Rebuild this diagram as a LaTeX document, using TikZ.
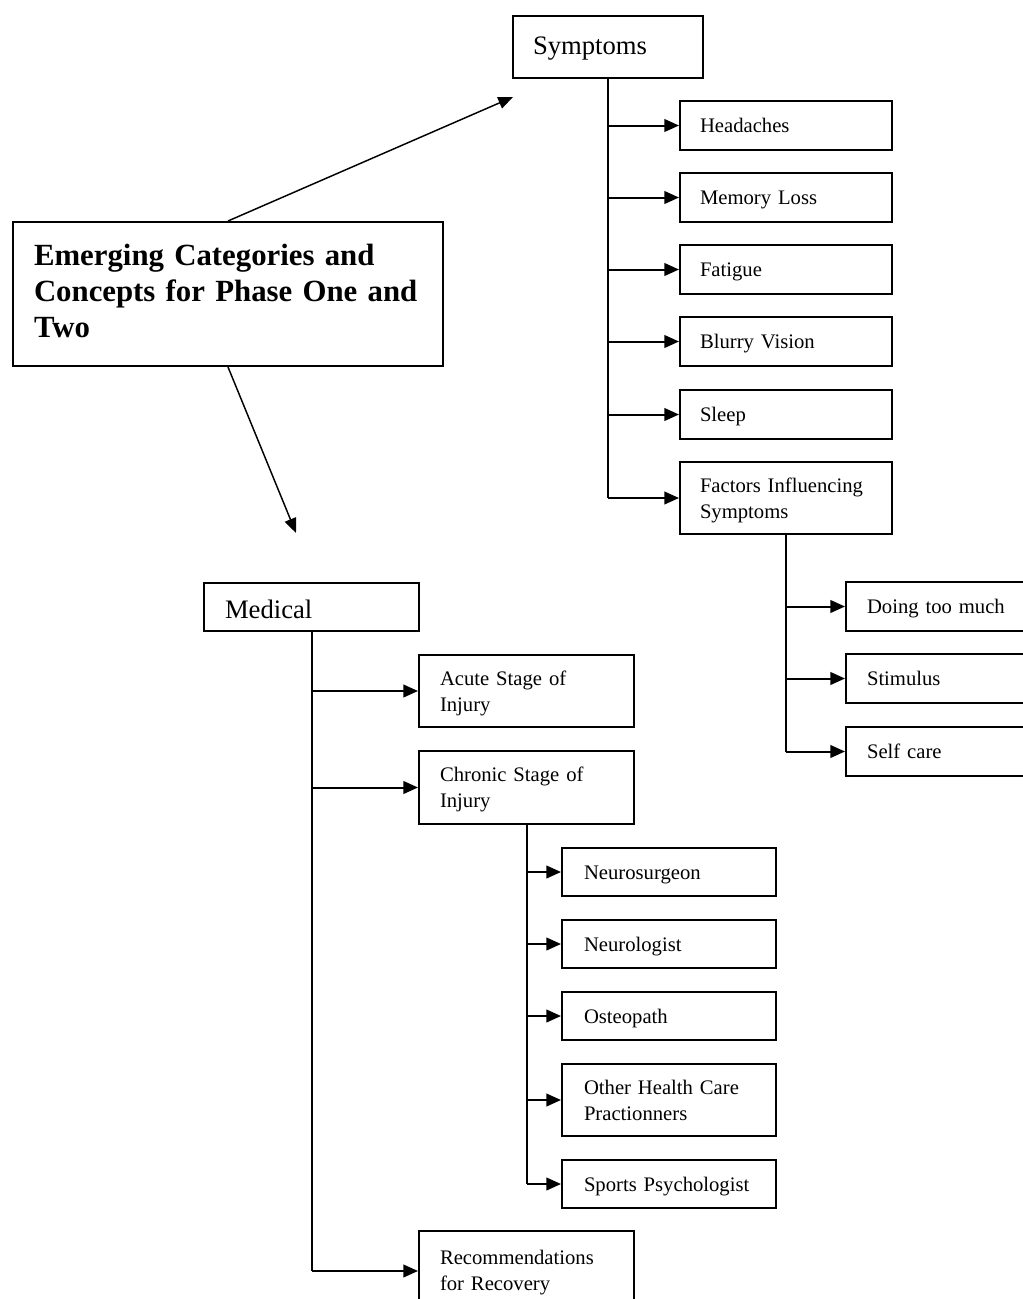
\documentclass[tikz,border=0pt]{standalone}
\usepackage{fontspec}
\setmainfont{Liberation Serif}
\usetikzlibrary{arrows.meta}

% left-indented block of lines inside a framed box, optionally lowered
\newcommand\boxlines[3][1.5pt]{\hspace*{#2}\raisebox{-#1}[\height][\depth]{\begin{tabular}{@{}l@{}}#3\end{tabular}}}

\tikzset{
  frame/.style={draw, line width=1.5pt, rectangle, anchor=north west,
                inner xsep=0pt, inner ysep=0pt, align=left},
  small/.style={frame, font=\fontsize{15.5}{19.5}\selectfont},
  large/.style={frame, font=\fontsize{20}{24}\selectfont},
  symchild/.style={small, text width=159pt, minimum height=36.75pt},
  facchild/.style={small, text width=159pt, minimum height=36.75pt},
  medchild/.style={small, text width=161.25pt, minimum height=54pt},
  chrchild/.style={small, text width=160.5pt, minimum height=36pt},
  trunk/.style={line width=1.5pt},
  branch/.style={line width=1.5pt, -{Triangle[length=11pt,width=9.5pt]}},
  diag/.style={line width=1.1pt, -{Triangle[length=11pt,width=9pt]}}
}

\begin{document}
\begin{tikzpicture}[x=0.75pt, y=-0.75pt]
\useasboundingbox (0,0) rectangle (1023,1299);
\fill[white] (0,0) rectangle (1023,1299);
\clip (0,0) rectangle (1023,1299);

% title box
\node[frame, font=\fontsize{23.1}{27}\selectfont\bfseries, text width=322.5pt,
      minimum height=108pt] (title) at (12,221)
  {\boxlines[0pt]{15.75pt}{Emerging Categories and\\Concepts for Phase One and\\Two}};

% symptoms branch
\node[large, text width=142.5pt, minimum height=46.5pt] (sym) at (512,15)
  {\boxlines[0.5pt]{15pt}{Symptoms}};
\node[symchild] (hd) at (679,100) {\boxlines{15pt}{Headaches}};
\node[symchild] (ml) at (679,172) {\boxlines{15pt}{Memory Loss}};
\node[symchild] (fa) at (679,244) {\boxlines{15pt}{Fatigue}};
\node[symchild] (bv) at (679,316) {\boxlines{15pt}{Blurry Vision}};
\node[symchild] (sl) at (679,389) {\boxlines{15pt}{Sleep}};
\node[symchild, minimum height=54pt] (fac) at (679,461)
  {\boxlines{15pt}{Factors Influencing\\Symptoms}};

\node[facchild] (dtm) at (845,581) {\boxlines{15.75pt}{Doing too much}};
\node[facchild] (stm) at (845,653) {\boxlines{15.75pt}{Stimulus}};
\node[facchild] (sc)  at (845,726) {\boxlines{15.75pt}{Self care}};

% medical branch
\node[large, text width=161.25pt, minimum height=36pt] (med) at (203,582)
  {\boxlines[3.5pt]{15.75pt}{Medical}};
\node[medchild] (acu) at (418,654) {\boxlines{15.75pt}{Acute Stage of\\Injury}};
\node[medchild, minimum height=54.75pt] (chr) at (418,750)
  {\boxlines{15.75pt}{Chronic Stage of\\Injury}};
\node[medchild, minimum height=60pt] (rec) at (418,1230)
  {\boxlines[1pt]{15.75pt}{Recommendations\\for Recovery}};

\node[chrchild] (nsu) at (561,847)  {\boxlines{16.5pt}{Neurosurgeon}};
\node[chrchild] (nlo) at (561,919)  {\boxlines{16.5pt}{Neurologist}};
\node[chrchild] (ost) at (561,991)  {\boxlines{16.5pt}{Osteopath}};
\node[chrchild, minimum height=54pt] (ohc) at (561,1063)
  {\boxlines{16.5pt}{Other Health Care\\Practionners}};
\node[chrchild] (spp) at (561,1159) {\boxlines{16.5pt}{Sports Psychologist}};

% arrows from the title box
\coordinate (symtip) at (513,97);
\coordinate (medtip) at (296,533);
\draw[diag] (title.north) -- (symtip);
\draw[diag] (title.south) -- (medtip);

% tree connectors
\draw[trunk] (sym.south) -- (sym.south |- fac.west);
\foreach \c in {hd,ml,fa,bv,sl,fac}
  \draw[branch] (sym.south |- \c.west) -- (\c.west);

\draw[trunk] (fac.south) -- (fac.south |- sc.west);
\foreach \c in {dtm,stm,sc}
  \draw[branch] (fac.south |- \c.west) -- (\c.west);

\draw[trunk] (med.south) -- (med.south |- rec.west);
\foreach \c in {acu,chr,rec}
  \draw[branch] (med.south |- \c.west) -- (\c.west);

\draw[trunk] (chr.south) -- (chr.south |- spp.west);
\foreach \c in {nsu,nlo,ost,ohc,spp}
  \draw[branch] (chr.south |- \c.west) -- (\c.west);
\end{tikzpicture}
\end{document}
